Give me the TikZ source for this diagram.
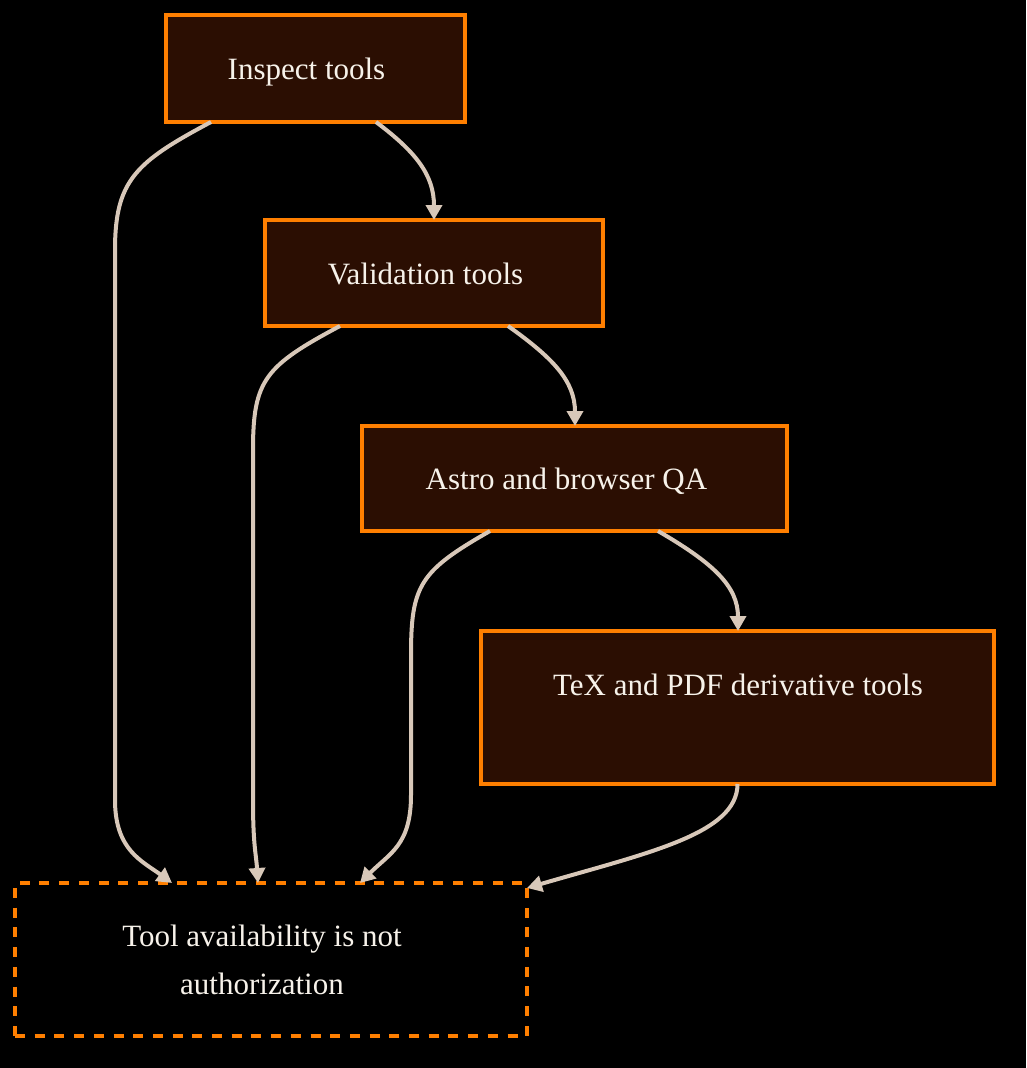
\documentclass[tikz,border=0pt]{standalone}
\usepackage{fontspec}
\setmainfont{Liberation Serif}
\usetikzlibrary{arrows.meta,calc}
\definecolor{boxfill}{HTML}{2B0E02}
\definecolor{boxline}{HTML}{FF7F00}
\definecolor{edgec}{HTML}{D8C8B9}
\definecolor{txt}{HTML}{F7F2EA}
\begin{document}
\begin{tikzpicture}[x=1pt,y=-1pt,
  box/.style={draw=boxline, fill=boxfill, line width=4pt, inner sep=0pt, outer sep=0pt},
  dbox/.style={draw=boxline, line width=4.2pt, dash pattern=on 10pt off 9.7pt, inner sep=0pt, outer sep=0pt},
  lbl/.style={text=txt, font=\fontsize{31}{48}\selectfont, anchor=base, inner sep=0pt},
  conn/.style={draw=edgec, line width=4pt, -{Triangle[length=15pt,width=16pt]}}]
\useasboundingbox[fill=black] (0,0) rectangle (1026,1068);
% boxes
\node[box, minimum width=299pt, minimum height=107pt] (insp) at (315.5,68.5) {};
\node[box, minimum width=338pt, minimum height=106pt] (vali) at (434,273) {};
\node[box, minimum width=425pt, minimum height=105pt] (astro) at (574.5,478.5) {};
\node[box, minimum width=513pt, minimum height=153pt] (tex) at (737.5,707.5) {};
\node[dbox, minimum width=512pt, minimum height=153pt] (auth) at (271,959.5) {};
% labels
\node[lbl] (tinsp) at (306.5,79) {Inspect tools};
\node[lbl] (tvali) at (425.5,284) {Validation tools};
\node[lbl] (tastro) at (566.5,489) {Astro and browser QA};
\node[lbl] (ttex) at (738,695) {TeX and PDF derivative tools};
\node[lbl] (tauth1) at (262,946) {Tool availability is not};
\node[lbl] (tauth2) at (262,994) {authorization};
% connectors
\draw[conn] ([xshift=45pt]insp.south west) .. controls +(-75,40) and +(0,-70) .. ++(-96,128)
  -- ++(0,550) .. controls +(0,50) and +(-30,-22) .. ([xshift=157pt]auth.north west);
\draw[conn] ([xshift=210pt]insp.south west) .. controls +(40,30) and +(0,-45) .. ([xshift=169pt]vali.north west);
\draw[conn] ([xshift=75pt]vali.south west) .. controls +(-75,40) and +(0,-70) .. ++(-87,124)
  -- ++(0,350) .. controls +(0,45) and +(-2,-30) .. ([xshift=243pt]auth.north west);
\draw[conn] ([xshift=243pt]vali.south west) .. controls +(45,32) and +(0,-45) .. ([xshift=213pt]astro.north west);
\draw[conn] ([xshift=128pt]astro.south west) .. controls +(-70,40) and +(0,-70) .. ++(-79,124)
  -- ++(0,140) .. controls +(0,50) and +(30,-30) .. ([xshift=345pt]auth.north west);
\draw[conn] ([xshift=296pt]astro.south west) .. controls +(55,32) and +(0,-45) .. ([xshift=257pt]tex.north west);
\draw[conn] (tex.south) .. controls +(0,50) and +(120,-35) .. ([yshift=-5pt]auth.north east);
\end{tikzpicture}
\end{document}
